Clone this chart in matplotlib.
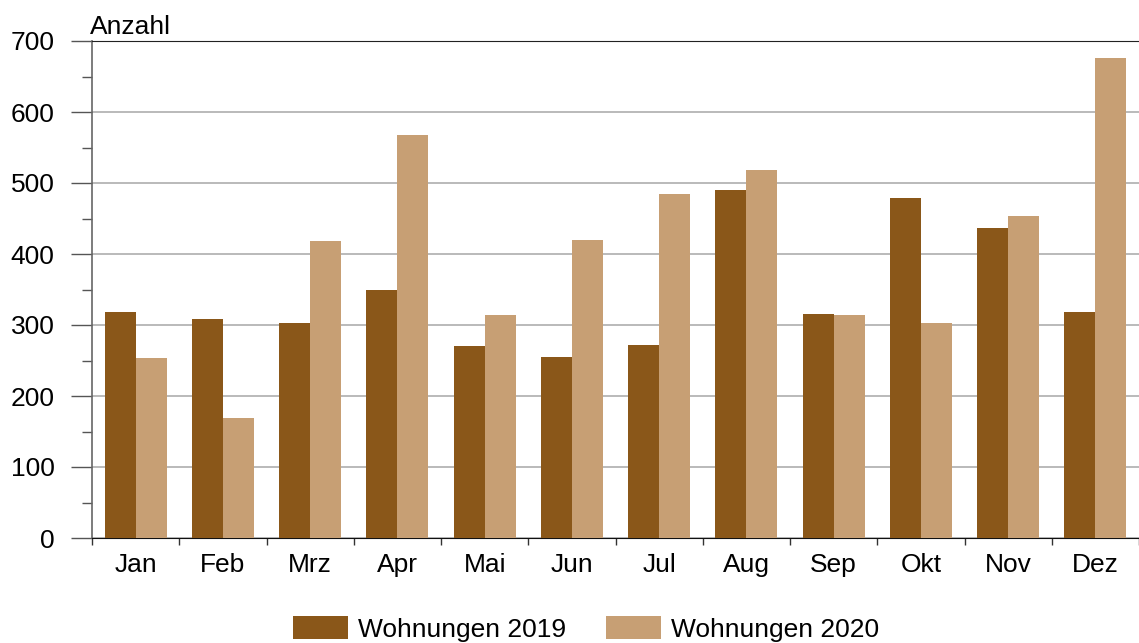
import numpy as np
import matplotlib.pyplot as plt
from matplotlib.ticker import MultipleLocator, FixedLocator

plt.rcParams['font.family'] = ['Liberation Sans', 'DejaVu Sans']

monate = ['Jan', 'Feb', 'Mrz', 'Apr', 'Mai', 'Jun', 'Jul', 'Aug', 'Sep', 'Okt', 'Nov', 'Dez']
wohnungen_2019 = [318, 308, 303, 349, 270, 255, 272, 490, 315, 479, 437, 318]
wohnungen_2020 = [253, 169, 419, 568, 314, 420, 485, 518, 314, 303, 454, 676]

farbe_2019 = '#8A5719'
farbe_2020 = '#C79F74'
fs = 19

fig = plt.figure(figsize=(11.39, 6.43), dpi=100)
ax = fig.add_axes([92 / 1139, 1 - 538 / 643, 1 - 92 / 1139, (538 - 41) / 643])

x = np.arange(len(monate))
w = 0.355
ax.bar(x - w / 2, wohnungen_2019, w, color=farbe_2019, label='Wohnungen 2019', zorder=3)
ax.bar(x + w / 2, wohnungen_2020, w, color=farbe_2020, label='Wohnungen 2020', zorder=3)

ax.set_xlim(-0.5, len(monate) - 0.5)
ax.set_ylim(0, 700)

# y-Achse
ax.yaxis.set_major_locator(MultipleLocator(100))
ax.yaxis.set_minor_locator(MultipleLocator(50))
ax.tick_params(axis='y', which='major', length=15, width=1, color='#555555',
               labelsize=fs, pad=12)
ax.tick_params(axis='y', which='minor', length=7, width=1, color='#555555')
ax.grid(axis='y', color='#b4b4b4', linewidth=1.3, zorder=0)

# x-Achse: Striche zwischen den Monaten
ax.set_xticks(x)
ax.set_xticklabels(monate)
ax.xaxis.set_minor_locator(FixedLocator(np.arange(-0.5, len(monate), 1.0)))
ax.tick_params(axis='x', which='major', length=0, labelsize=fs, pad=11)
ax.tick_params(axis='x', which='minor', length=5, width=1, color='#333333')

ax.spines['right'].set_visible(False)
ax.spines['top'].set_color('#222222')
ax.spines['left'].set_color('#666666')
ax.spines['bottom'].set_color('#111111')
ax.spines['left'].set_linewidth(1.2)
ax.set_axisbelow(True)

fig.text(90 / 1139, 1 - 34 / 643, 'Anzahl', fontsize=fs, va='baseline', ha='left')

fig.legend(loc='center', bbox_to_anchor=(586 / 1139, 1 - 629 / 643), ncol=2,
           frameon=False, fontsize=fs, handlelength=2.08, handleheight=0.91,
           handletextpad=0.38, columnspacing=1.5, borderpad=0)

fig.savefig('out.png', dpi=100)
